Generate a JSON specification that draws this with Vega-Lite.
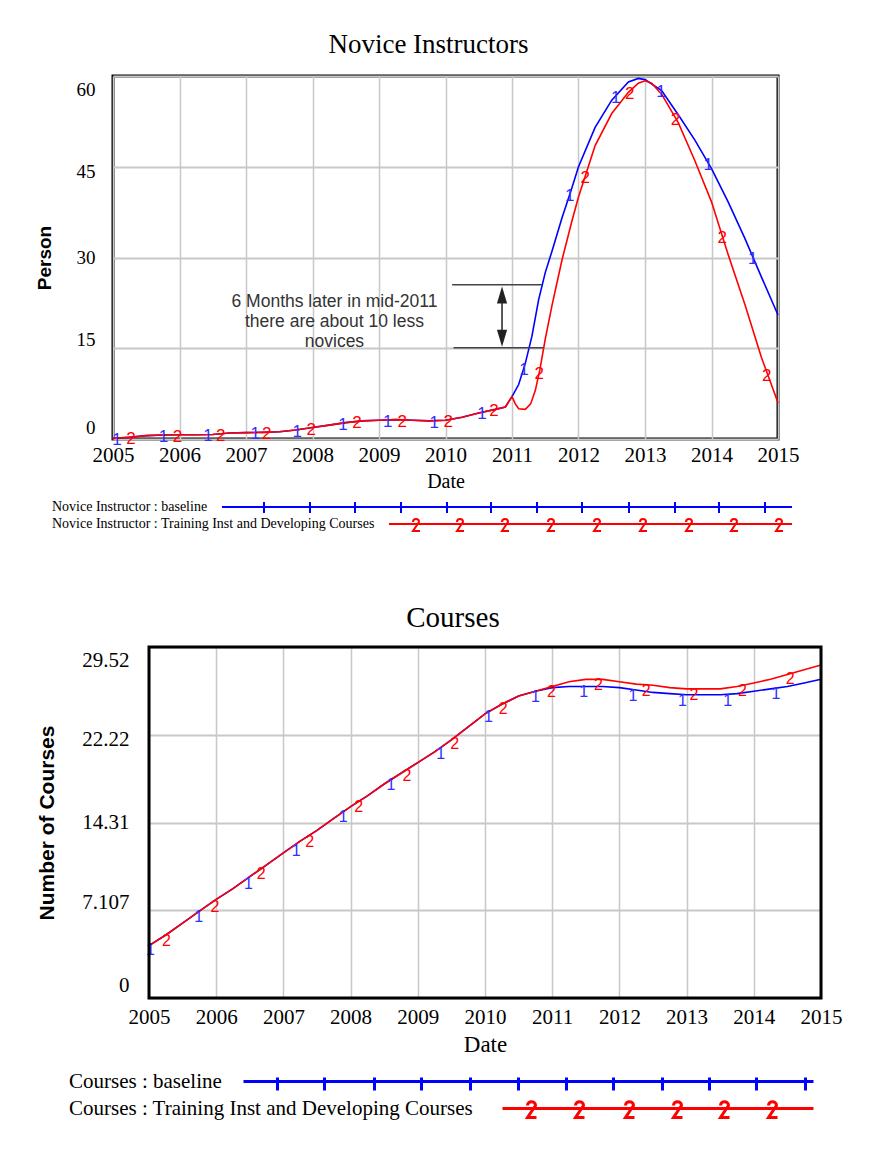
{
  "$schema": "https://vega.github.io/schema/vega-lite/v6.json",
  "background": "white",
  "padding": {"left": 33, "top": 29, "right": 5, "bottom": 5},
  "spacing": 66,
  "resolve": {"scale": {"color": "independent"}, "legend": {"color": "independent"}},
  "config": {
    "view": {"stroke": "black", "strokeWidth": 3},
    "axis": {"ticks": false, "domain": false, "gridColor": "#c8c8c8", "labelColor": "black", "titleColor": "black", "labelFlush": false}
  },
  "datasets": {
    "novice": [
      {"series": "baseline", "year": 2005.0, "value": 0.1},
      {"series": "baseline", "year": 2005.25, "value": 0.3},
      {"series": "baseline", "year": 2005.5, "value": 0.55},
      {"series": "baseline", "year": 2005.75, "value": 0.65},
      {"series": "baseline", "year": 2006.0, "value": 0.7},
      {"series": "baseline", "year": 2006.25, "value": 0.7},
      {"series": "baseline", "year": 2006.5, "value": 0.75},
      {"series": "baseline", "year": 2006.75, "value": 1.0},
      {"series": "baseline", "year": 2007.0, "value": 1.05},
      {"series": "baseline", "year": 2007.25, "value": 1.1},
      {"series": "baseline", "year": 2007.5, "value": 1.2},
      {"series": "baseline", "year": 2007.75, "value": 1.5},
      {"series": "baseline", "year": 2008.0, "value": 1.9},
      {"series": "baseline", "year": 2008.25, "value": 2.3},
      {"series": "baseline", "year": 2008.5, "value": 2.7},
      {"series": "baseline", "year": 2008.75, "value": 3.0},
      {"series": "baseline", "year": 2009.0, "value": 3.1},
      {"series": "baseline", "year": 2009.25, "value": 3.2},
      {"series": "baseline", "year": 2009.5, "value": 3.1},
      {"series": "baseline", "year": 2009.75, "value": 3.0},
      {"series": "baseline", "year": 2010.0, "value": 3.1},
      {"series": "baseline", "year": 2010.25, "value": 3.6},
      {"series": "baseline", "year": 2010.5, "value": 4.3},
      {"series": "baseline", "year": 2010.75, "value": 4.9},
      {"series": "baseline", "year": 2010.9, "value": 5.3},
      {"series": "baseline", "year": 2011.0, "value": 7.0},
      {"series": "baseline", "year": 2011.1, "value": 9.0},
      {"series": "baseline", "year": 2011.2, "value": 12.5},
      {"series": "baseline", "year": 2011.3, "value": 17.0},
      {"series": "baseline", "year": 2011.4, "value": 23.0},
      {"series": "baseline", "year": 2011.5, "value": 27.5},
      {"series": "baseline", "year": 2011.6, "value": 31.0},
      {"series": "baseline", "year": 2011.75, "value": 36.5},
      {"series": "baseline", "year": 2011.9, "value": 41.5},
      {"series": "baseline", "year": 2012.0, "value": 45.0},
      {"series": "baseline", "year": 2012.25, "value": 51.5},
      {"series": "baseline", "year": 2012.5, "value": 56.0},
      {"series": "baseline", "year": 2012.75, "value": 59.0},
      {"series": "baseline", "year": 2012.9, "value": 59.6},
      {"series": "baseline", "year": 2013.0, "value": 59.4},
      {"series": "baseline", "year": 2013.25, "value": 57.6},
      {"series": "baseline", "year": 2013.5, "value": 53.6},
      {"series": "baseline", "year": 2013.75, "value": 49.4},
      {"series": "baseline", "year": 2014.0, "value": 44.7},
      {"series": "baseline", "year": 2014.25, "value": 39.2},
      {"series": "baseline", "year": 2014.5, "value": 33.2},
      {"series": "baseline", "year": 2014.75, "value": 26.8},
      {"series": "baseline", "year": 2015.0, "value": 20.5},
      {"series": "training", "year": 2005.0, "value": 0.1},
      {"series": "training", "year": 2005.25, "value": 0.3},
      {"series": "training", "year": 2005.5, "value": 0.55},
      {"series": "training", "year": 2005.75, "value": 0.65},
      {"series": "training", "year": 2006.0, "value": 0.7},
      {"series": "training", "year": 2006.25, "value": 0.7},
      {"series": "training", "year": 2006.5, "value": 0.75},
      {"series": "training", "year": 2006.75, "value": 1.0},
      {"series": "training", "year": 2007.0, "value": 1.05},
      {"series": "training", "year": 2007.25, "value": 1.1},
      {"series": "training", "year": 2007.5, "value": 1.2},
      {"series": "training", "year": 2007.75, "value": 1.5},
      {"series": "training", "year": 2008.0, "value": 1.9},
      {"series": "training", "year": 2008.25, "value": 2.3},
      {"series": "training", "year": 2008.5, "value": 2.7},
      {"series": "training", "year": 2008.75, "value": 3.0},
      {"series": "training", "year": 2009.0, "value": 3.1},
      {"series": "training", "year": 2009.25, "value": 3.2},
      {"series": "training", "year": 2009.5, "value": 3.1},
      {"series": "training", "year": 2009.75, "value": 3.0},
      {"series": "training", "year": 2010.0, "value": 3.1},
      {"series": "training", "year": 2010.25, "value": 3.6},
      {"series": "training", "year": 2010.5, "value": 4.3},
      {"series": "training", "year": 2010.75, "value": 4.9},
      {"series": "training", "year": 2010.9, "value": 5.3},
      {"series": "training", "year": 2011.0, "value": 7.0},
      {"series": "training", "year": 2011.05, "value": 5.8},
      {"series": "training", "year": 2011.1, "value": 5.0},
      {"series": "training", "year": 2011.2, "value": 4.9},
      {"series": "training", "year": 2011.28, "value": 5.8},
      {"series": "training", "year": 2011.35, "value": 8.0},
      {"series": "training", "year": 2011.42, "value": 11.5},
      {"series": "training", "year": 2011.5, "value": 16.5},
      {"series": "training", "year": 2011.6, "value": 22.0},
      {"series": "training", "year": 2011.75, "value": 29.5},
      {"series": "training", "year": 2011.9, "value": 36.0},
      {"series": "training", "year": 2012.0, "value": 40.0},
      {"series": "training", "year": 2012.25, "value": 48.5},
      {"series": "training", "year": 2012.5, "value": 53.8},
      {"series": "training", "year": 2012.75, "value": 57.3},
      {"series": "training", "year": 2012.9, "value": 58.8},
      {"series": "training", "year": 2013.0, "value": 59.2},
      {"series": "training", "year": 2013.1, "value": 58.8},
      {"series": "training", "year": 2013.25, "value": 57.0},
      {"series": "training", "year": 2013.5, "value": 52.3},
      {"series": "training", "year": 2013.75, "value": 46.0},
      {"series": "training", "year": 2014.0, "value": 39.2},
      {"series": "training", "year": 2014.25, "value": 30.5},
      {"series": "training", "year": 2014.5, "value": 22.3},
      {"series": "training", "year": 2014.75, "value": 13.5},
      {"series": "training", "year": 2015.0, "value": 6.0}
    ],
    "noviceMarks": [
      {"series": "baseline", "year": 2005.06, "value": 0.1},
      {"series": "baseline", "year": 2005.76, "value": 0.65},
      {"series": "baseline", "year": 2006.43, "value": 0.75},
      {"series": "baseline", "year": 2007.14, "value": 1.1},
      {"series": "baseline", "year": 2007.77, "value": 1.5},
      {"series": "baseline", "year": 2008.46, "value": 2.65},
      {"series": "baseline", "year": 2009.13, "value": 3.15},
      {"series": "baseline", "year": 2009.83, "value": 3.0},
      {"series": "baseline", "year": 2010.55, "value": 4.4},
      {"series": "baseline", "year": 2011.18, "value": 11.8},
      {"series": "baseline", "year": 2011.87, "value": 40.5},
      {"series": "baseline", "year": 2012.56, "value": 56.7},
      {"series": "baseline", "year": 2013.24, "value": 57.7},
      {"series": "baseline", "year": 2013.95, "value": 45.6},
      {"series": "baseline", "year": 2014.62, "value": 30.1},
      {"series": "training", "year": 2005.27, "value": 0.3},
      {"series": "training", "year": 2005.97, "value": 0.7},
      {"series": "training", "year": 2006.62, "value": 0.85},
      {"series": "training", "year": 2007.31, "value": 1.1},
      {"series": "training", "year": 2007.98, "value": 1.9},
      {"series": "training", "year": 2008.67, "value": 2.9},
      {"series": "training", "year": 2009.35, "value": 3.2},
      {"series": "training", "year": 2010.04, "value": 3.2},
      {"series": "training", "year": 2010.73, "value": 4.9},
      {"series": "training", "year": 2011.41, "value": 11.0},
      {"series": "training", "year": 2012.1, "value": 43.4},
      {"series": "training", "year": 2012.77, "value": 57.4},
      {"series": "training", "year": 2013.46, "value": 53.1},
      {"series": "training", "year": 2014.16, "value": 33.6},
      {"series": "training", "year": 2014.83, "value": 10.7}
    ],
    "courses": [
      {"series": "baseline", "year": 2005.0, "value": 4.4},
      {"series": "baseline", "year": 2005.25, "value": 5.3},
      {"series": "baseline", "year": 2005.5, "value": 6.3},
      {"series": "baseline", "year": 2005.75, "value": 7.3},
      {"series": "baseline", "year": 2006.0, "value": 8.3},
      {"series": "baseline", "year": 2006.25, "value": 9.2},
      {"series": "baseline", "year": 2006.5, "value": 10.2},
      {"series": "baseline", "year": 2006.75, "value": 11.2},
      {"series": "baseline", "year": 2007.0, "value": 12.2},
      {"series": "baseline", "year": 2007.25, "value": 13.2},
      {"series": "baseline", "year": 2007.5, "value": 14.1},
      {"series": "baseline", "year": 2007.75, "value": 15.1},
      {"series": "baseline", "year": 2008.0, "value": 16.1},
      {"series": "baseline", "year": 2008.25, "value": 17.0},
      {"series": "baseline", "year": 2008.5, "value": 18.0},
      {"series": "baseline", "year": 2008.75, "value": 18.9},
      {"series": "baseline", "year": 2009.0, "value": 19.8},
      {"series": "baseline", "year": 2009.25, "value": 20.7},
      {"series": "baseline", "year": 2009.5, "value": 21.7},
      {"series": "baseline", "year": 2009.75, "value": 22.8},
      {"series": "baseline", "year": 2010.0, "value": 23.9},
      {"series": "baseline", "year": 2010.25, "value": 24.7},
      {"series": "baseline", "year": 2010.5, "value": 25.4},
      {"series": "baseline", "year": 2010.75, "value": 25.8},
      {"series": "baseline", "year": 2011.0, "value": 26.1},
      {"series": "baseline", "year": 2011.25, "value": 26.2},
      {"series": "baseline", "year": 2011.5, "value": 26.2},
      {"series": "baseline", "year": 2011.75, "value": 26.2},
      {"series": "baseline", "year": 2012.0, "value": 26.1},
      {"series": "baseline", "year": 2012.25, "value": 25.9},
      {"series": "baseline", "year": 2012.5, "value": 25.7},
      {"series": "baseline", "year": 2012.75, "value": 25.6},
      {"series": "baseline", "year": 2013.0, "value": 25.5},
      {"series": "baseline", "year": 2013.25, "value": 25.5},
      {"series": "baseline", "year": 2013.5, "value": 25.5},
      {"series": "baseline", "year": 2013.75, "value": 25.6},
      {"series": "baseline", "year": 2014.0, "value": 25.8},
      {"series": "baseline", "year": 2014.25, "value": 26.0},
      {"series": "baseline", "year": 2014.5, "value": 26.2},
      {"series": "baseline", "year": 2014.75, "value": 26.5},
      {"series": "baseline", "year": 2015.0, "value": 26.8},
      {"series": "training", "year": 2005.0, "value": 4.4},
      {"series": "training", "year": 2005.25, "value": 5.3},
      {"series": "training", "year": 2005.5, "value": 6.3},
      {"series": "training", "year": 2005.75, "value": 7.3},
      {"series": "training", "year": 2006.0, "value": 8.3},
      {"series": "training", "year": 2006.25, "value": 9.2},
      {"series": "training", "year": 2006.5, "value": 10.2},
      {"series": "training", "year": 2006.75, "value": 11.2},
      {"series": "training", "year": 2007.0, "value": 12.2},
      {"series": "training", "year": 2007.25, "value": 13.2},
      {"series": "training", "year": 2007.5, "value": 14.1},
      {"series": "training", "year": 2007.75, "value": 15.1},
      {"series": "training", "year": 2008.0, "value": 16.1},
      {"series": "training", "year": 2008.25, "value": 17.0},
      {"series": "training", "year": 2008.5, "value": 18.0},
      {"series": "training", "year": 2008.75, "value": 18.9},
      {"series": "training", "year": 2009.0, "value": 19.8},
      {"series": "training", "year": 2009.25, "value": 20.7},
      {"series": "training", "year": 2009.5, "value": 21.7},
      {"series": "training", "year": 2009.75, "value": 22.8},
      {"series": "training", "year": 2010.0, "value": 23.9},
      {"series": "training", "year": 2010.25, "value": 24.7},
      {"series": "training", "year": 2010.5, "value": 25.4},
      {"series": "training", "year": 2010.75, "value": 25.8},
      {"series": "training", "year": 2011.0, "value": 26.2},
      {"series": "training", "year": 2011.25, "value": 26.6},
      {"series": "training", "year": 2011.5, "value": 26.8},
      {"series": "training", "year": 2011.75, "value": 26.8},
      {"series": "training", "year": 2012.0, "value": 26.6},
      {"series": "training", "year": 2012.25, "value": 26.4},
      {"series": "training", "year": 2012.5, "value": 26.3},
      {"series": "training", "year": 2012.75, "value": 26.1},
      {"series": "training", "year": 2013.0, "value": 26.0},
      {"series": "training", "year": 2013.25, "value": 26.0},
      {"series": "training", "year": 2013.5, "value": 26.0},
      {"series": "training", "year": 2013.75, "value": 26.2},
      {"series": "training", "year": 2014.0, "value": 26.5},
      {"series": "training", "year": 2014.25, "value": 26.8},
      {"series": "training", "year": 2014.5, "value": 27.2},
      {"series": "training", "year": 2014.75, "value": 27.6},
      {"series": "training", "year": 2015.0, "value": 28.0}
    ],
    "coursesMarks": [
      {"series": "baseline", "year": 2005.02, "value": 4.5},
      {"series": "baseline", "year": 2005.74, "value": 7.3},
      {"series": "baseline", "year": 2006.48, "value": 10.1},
      {"series": "baseline", "year": 2007.19, "value": 12.9},
      {"series": "baseline", "year": 2007.89, "value": 15.7},
      {"series": "baseline", "year": 2008.6, "value": 18.4},
      {"series": "baseline", "year": 2009.34, "value": 21.0},
      {"series": "baseline", "year": 2010.05, "value": 24.1},
      {"series": "baseline", "year": 2010.75, "value": 25.8},
      {"series": "baseline", "year": 2011.47, "value": 26.2},
      {"series": "baseline", "year": 2012.2, "value": 25.9},
      {"series": "baseline", "year": 2012.94, "value": 25.5},
      {"series": "baseline", "year": 2013.61, "value": 25.5},
      {"series": "baseline", "year": 2014.33, "value": 26.1},
      {"series": "training", "year": 2005.26, "value": 5.3},
      {"series": "training", "year": 2005.98, "value": 8.2},
      {"series": "training", "year": 2006.67, "value": 10.9},
      {"series": "training", "year": 2007.39, "value": 13.6},
      {"series": "training", "year": 2008.12, "value": 16.6},
      {"series": "training", "year": 2008.84, "value": 19.2},
      {"series": "training", "year": 2009.55, "value": 21.9},
      {"series": "training", "year": 2010.27, "value": 24.8},
      {"series": "training", "year": 2010.99, "value": 26.2},
      {"series": "training", "year": 2011.69, "value": 26.8},
      {"series": "training", "year": 2012.4, "value": 26.3},
      {"series": "training", "year": 2013.11, "value": 26.0},
      {"series": "training", "year": 2013.83, "value": 26.3},
      {"series": "training", "year": 2014.54, "value": 27.3}
    ]
  },
  "vconcat": [
    {
      "width": 665,
      "height": 363,
      "title": {"text": "Novice Instructors", "font": "Liberation Serif", "fontSize": 27, "fontWeight": "normal", "color": "black", "anchor": "middle", "dx": -17, "offset": -5, "baseline": "alphabetic"},
      "layer": [
        {
          "data": {"name": "novice"},
          "mark": {"type": "line", "strokeWidth": 1.6},
          "encoding": {
            "x": {"field": "year", "type": "quantitative", "scale": {"domain": [2005, 2015], "nice": false, "zero": false},
              "axis": {"values": [2005, 2005.5, 2006, 2006.5, 2007, 2007.5, 2008, 2008.5, 2009, 2009.5, 2010, 2010.5, 2011, 2011.5, 2012, 2012.5, 2013, 2013.5, 2014, 2014.5, 2015],
                "labelExpr": "datum.value % 1 === 0 ? '' + datum.value : ''", "grid": true, "gridWidth": 1.5,
                "labelFont": "Liberation Serif", "labelFontSize": 21, "labelPadding": 5, "labelOverlap": false,
                "title": "Date", "titleFont": "Liberation Serif", "titleFontSize": 20, "titleFontWeight": "normal", "titlePadding": 6}},
            "y": {"field": "value", "type": "quantitative", "scale": {"domain": [0, 60], "nice": false},
              "axis": {"values": [0, 15, 30, 45, 60], "grid": true, "gridWidth": 2,
                "labelFont": "Liberation Serif", "labelFontSize": 19, "labelPadding": 18,
                "labelOffset": {"condition": [{"test": "datum.value === 60", "value": 13}, {"test": "datum.value === 45", "value": 5}, {"test": "datum.value === 15", "value": -9}, {"test": "datum.value === 0", "value": -12}], "value": 0},
                "title": "Person", "titleFont": "Liberation Sans", "titleFontSize": 19, "titleFontWeight": "bold", "titlePadding": 22}},
            "color": {"field": "series", "type": "nominal", "scale": {"domain": ["baseline", "training"], "range": ["#0000ff", "#ff0000"]},
              "legend": {"orient": "none", "legendX": -75, "legendY": 424, "title": null, "padding": 0,
                "labelExpr": "datum.value === 'baseline' ? 'Novice Instructor : baseline' : 'Novice Instructor : Training Inst and Developing Courses'",
                "labelFont": "Liberation Serif", "labelFontSize": 14, "labelColor": "black", "labelOffset": 0, "labelLimit": 1000,
                "symbolSize": 4, "symbolStrokeWidth": 2, "rowPadding": -2,
                "encode": {"symbols": {"update": {
                  "fill": {"value": "transparent"},
                  "shape": {"signal": "datum.value === 'baseline' ? 'M177,0L747,0M219,-5L219,6M265,-5L265,6M310,-5L310,6M356,-5L356,6M402,-5L402,6M446,-5L446,6M492,-5L492,6M537,-5L537,6M584,-5L584,6M630,-5L630,6M674,-5L674,6M720,-5L720,6' : 'M344,0L747,0M368,-2C368,-6 374,-6 374,-2L368,7L375,7M412,-2C412,-6 418,-6 418,-2L412,7L419,7M457,-2C457,-6 463,-6 463,-2L457,7L464,7M503,-2C503,-6 509,-6 509,-2L503,7L510,7M549,-2C549,-6 555,-6 555,-2L549,7L556,7M595,-2C595,-6 601,-6 601,-2L595,7L602,7M641,-2C641,-6 647,-6 647,-2L641,7L648,7M686,-2C686,-6 692,-6 692,-2L686,7L693,7M731,-2C731,-6 737,-6 737,-2L731,7L738,7'"}
                }}}}}
          }
        },
        {
          "data": {"name": "noviceMarks"},
          "mark": {"type": "text", "font": "Liberation Sans", "fontSize": 17, "baseline": "middle", "dy": 2},
          "encoding": {
            "x": {"field": "year", "type": "quantitative"},
            "y": {"field": "value", "type": "quantitative"},
            "text": {"condition": {"test": "datum.series === 'baseline'", "value": "1"}, "value": "2"},
            "color": {"condition": {"test": "datum.series === 'baseline'", "value": "#3030ff"}, "value": "#ff0000"}
          }
        },
        {
          "data": {"values": [{}]},
          "mark": {"type": "rule", "color": "#444444", "strokeWidth": 1.5},
          "encoding": {"x": {"datum": 2010.1}, "x2": {"datum": 2011.45}, "y": {"datum": 25.5}}
        },
        {
          "data": {"values": [{}]},
          "mark": {"type": "rule", "color": "#444444", "strokeWidth": 1.5},
          "encoding": {"x": {"datum": 2010.12}, "x2": {"datum": 2011.47}, "y": {"datum": 15.1}}
        },
        {
          "data": {"values": [{}]},
          "mark": {"type": "rule", "color": "#222222", "strokeWidth": 1.5},
          "encoding": {"x": {"datum": 2010.85}, "y": {"datum": 23.5}, "y2": {"datum": 17.0}}
        },
        {
          "data": {"values": [{}]},
          "mark": {"type": "point", "shape": "M0,-1L0.6,1L-0.6,1Z", "size": 289, "filled": true, "color": "#222222", "opacity": 1},
          "encoding": {"x": {"datum": 2010.85}, "y": {"datum": 23.8}}
        },
        {
          "data": {"values": [{}]},
          "mark": {"type": "point", "shape": "M0,1L0.6,-1L-0.6,-1Z", "size": 289, "filled": true, "color": "#222222", "opacity": 1},
          "encoding": {"x": {"datum": 2010.85}, "y": {"datum": 16.67}}
        },
        {
          "data": {"values": [{}]},
          "mark": {"type": "text", "text": ["6 Months later in mid-2011", "there are about 10 less", "novices"], "align": "center", "baseline": "middle", "lineHeight": 20, "font": "Liberation Sans", "fontSize": 17.5, "color": "#333333"},
          "encoding": {"x": {"datum": 2008.33}, "y": {"datum": 22.7}}
        }
      ]
    },
    {
      "width": 708,
      "height": 351,
      "view": {"stroke": null},
      "title": {"text": "Courses", "font": "Liberation Serif", "fontSize": 29, "fontWeight": "normal", "color": "black", "anchor": "middle", "dx": -14, "offset": -10, "baseline": "alphabetic"},
      "layer": [
        {
          "data": {"name": "courses"},
          "mark": {"type": "line", "strokeWidth": 1.6},
          "encoding": {
            "x": {"field": "year", "type": "quantitative", "scale": {"domain": [2005, 2015], "nice": false, "zero": false, "range": [36, 708]},
              "axis": {"values": [2005, 2005.5, 2006, 2006.5, 2007, 2007.5, 2008, 2008.5, 2009, 2009.5, 2010, 2010.5, 2011, 2011.5, 2012, 2012.5, 2013, 2013.5, 2014, 2014.5, 2015],
                "labelExpr": "datum.value % 1 === 0 ? '' + datum.value : ''", "grid": true, "gridWidth": 1.5,
                "labelFont": "Liberation Serif", "labelFontSize": 21, "labelPadding": 8, "labelOverlap": false,
                "title": "Date", "titleFont": "Liberation Serif", "titleFontSize": 23, "titleFontWeight": "normal", "titlePadding": 6}},
            "y": {"field": "value", "type": "quantitative", "scale": {"domain": [0, 29.52], "nice": false},
              "axis": {"values": [0, 7.38, 14.76, 22.14, 29.52], "grid": true, "gridWidth": 2, "offset": -36,
                "labelExpr": "datum.value === 0 ? '0' : datum.value === 7.38 ? '7.107' : datum.value === 14.76 ? '14.31' : datum.value === 22.14 ? '22.22' : '29.52'",
                "labelFont": "Liberation Serif", "labelFontSize": 21, "labelPadding": 20,
                "labelOffset": {"condition": [{"test": "datum.value === 29.52", "value": 13}, {"test": "datum.value === 22.14", "value": 5}, {"test": "datum.value === 7.38", "value": -8}, {"test": "datum.value === 0", "value": -13}], "value": 0},
                "title": "Number of Courses", "titleFont": "Liberation Sans", "titleFontSize": 21, "titleFontWeight": "bold", "titlePadding": 24}},
            "color": {"field": "series", "type": "nominal", "scale": {"domain": ["baseline", "training"], "range": ["#0000ff", "#ff0000"]},
              "legend": {"orient": "none", "legendX": -65, "legendY": 424, "title": null, "padding": 0,
                "labelExpr": "datum.value === 'baseline' ? 'Courses : baseline' : 'Courses : Training Inst and Developing Courses'",
                "labelFont": "Liberation Serif", "labelFontSize": 21, "labelColor": "black", "labelOffset": 0, "labelLimit": 1000,
                "symbolSize": 4, "symbolStrokeWidth": 3, "rowPadding": -2,
                "encode": {"symbols": {"update": {
                  "fill": {"value": "transparent"},
                  "shape": {"signal": "datum.value === 'baseline' ? 'M185,0L755,0M219,-4L219,9M266,-4L266,9M316,-4L316,9M363,-4L363,9M412,-4L412,9M460,-4L460,9M508,-4L508,9M555,-4L555,9M604,-4L604,9M651,-4L651,9M698,-4L698,9M747,-4L747,9' : 'M444,0L755,0M469,-3C469,-8 477,-8 477,-3L469,9L478,9M517,-3C517,-8 525,-8 525,-3L517,9L526,9M567,-3C567,-8 575,-8 575,-3L567,9L576,9M615,-3C615,-8 623,-8 623,-3L615,9L624,9M662,-3C662,-8 670,-8 670,-3L662,9L671,9M710,-3C710,-8 718,-8 718,-3L710,9L719,9'"}
                }}}}}
          }
        },
        {
          "data": {"name": "coursesMarks"},
          "mark": {"type": "text", "font": "Liberation Sans", "fontSize": 16, "baseline": "top", "dy": -2},
          "encoding": {
            "x": {"field": "year", "type": "quantitative"},
            "y": {"field": "value", "type": "quantitative"},
            "text": {"condition": {"test": "datum.series === 'baseline'", "value": "1"}, "value": "2"},
            "color": {"condition": {"test": "datum.series === 'baseline'", "value": "#3030ff"}, "value": "#ff0000"}
          }
        },
        {
          "data": {"values": [{}]},
          "mark": {"type": "rect", "filled": false, "stroke": "black", "strokeWidth": 3},
          "encoding": {"x": {"datum": 2005}, "x2": {"datum": 2015}, "y": {"datum": 0}, "y2": {"datum": 29.52}}
        }
      ]
    }
  ]
}
